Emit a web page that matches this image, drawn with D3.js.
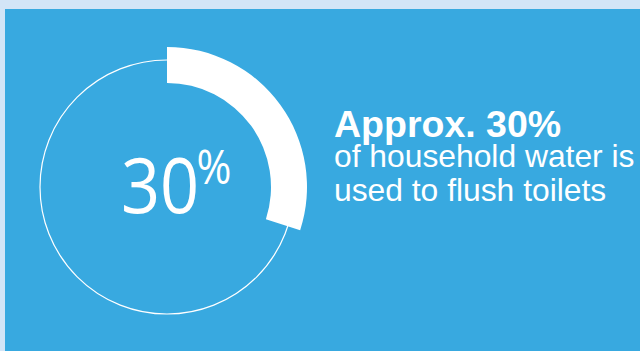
<!DOCTYPE html>
<html>
<head>
<meta charset="utf-8">
<script src="https://cdn.jsdelivr.net/npm/d3@7"></script>
<style>
  html, body { margin: 0; padding: 0; background: #d3e5f7; }
  svg { display: block; }
</style>
</head>
<body>
<script>
// share of household water used for flushing toilets
var values = [30];
var headline = ["Approx. 30%"];
var bodyLines = ["of household water is", "used to flush toilets"];

var width = 640, height = 351;
var svg = d3.select("body").append("svg")
    .attr("width", width)
    .attr("height", height);

svg.append("rect")
    .attr("x", 5).attr("y", 9)
    .attr("width", width - 5).attr("height", height - 9)
    .style("fill", "#38a9e0");

var cx = 167, cy = 187;
var g = svg.append("g").attr("transform", "translate(" + cx + "," + cy + ")");

var angle = d3.scaleLinear().domain([0, 100]).range([0, 2 * Math.PI]);

// thin full ring
g.append("circle")
    .attr("r", 127)
    .style("fill", "none")
    .style("stroke", "white")
    .style("stroke-width", 1.2);

var arc = d3.arc().innerRadius(104).outerRadius(140);
g.selectAll("path.val")
    .data(values)
    .enter()
    .append("path")
    .attr("class", "val")
    .attr("d", function (d) {
        return arc({startAngle: 0, endAngle: angle(d)});
    })
    .style("fill", "white");

// big number, slightly condensed
var big = g.append("text")
    .attr("transform", "translate(-46,26) scale(0.9,1)")
    .style("font-family", "'Open Sans', sans-serif")
    .style("fill", "white");
big.append("tspan")
    .style("font-size", "76px")
    .text(values[0]);
big.append("tspan")
    .attr("dx", -3)
    .attr("dy", -29)
    .style("font-size", "47px")
    .text("%");

svg.append("text")
    .attr("x", 334)
    .attr("y", 137)
    .style("font-family", "'Liberation Sans', Arial, sans-serif")
    .style("font-weight", "bold")
    .style("font-size", "37.5px")
    .style("fill", "white")
    .text(headline[0]);

svg.selectAll("text.body")
    .data(bodyLines)
    .enter()
    .append("text")
    .attr("class", "body")
    .attr("x", 334)
    .attr("y", function (d, i) { return 167 + i * 34; })
    .style("font-family", "'Liberation Sans', Arial, sans-serif")
    .style("font-size", "31.8px")
    .style("fill", "white")
    .text(function (d) { return d; });
</script>
</body>
</html>
